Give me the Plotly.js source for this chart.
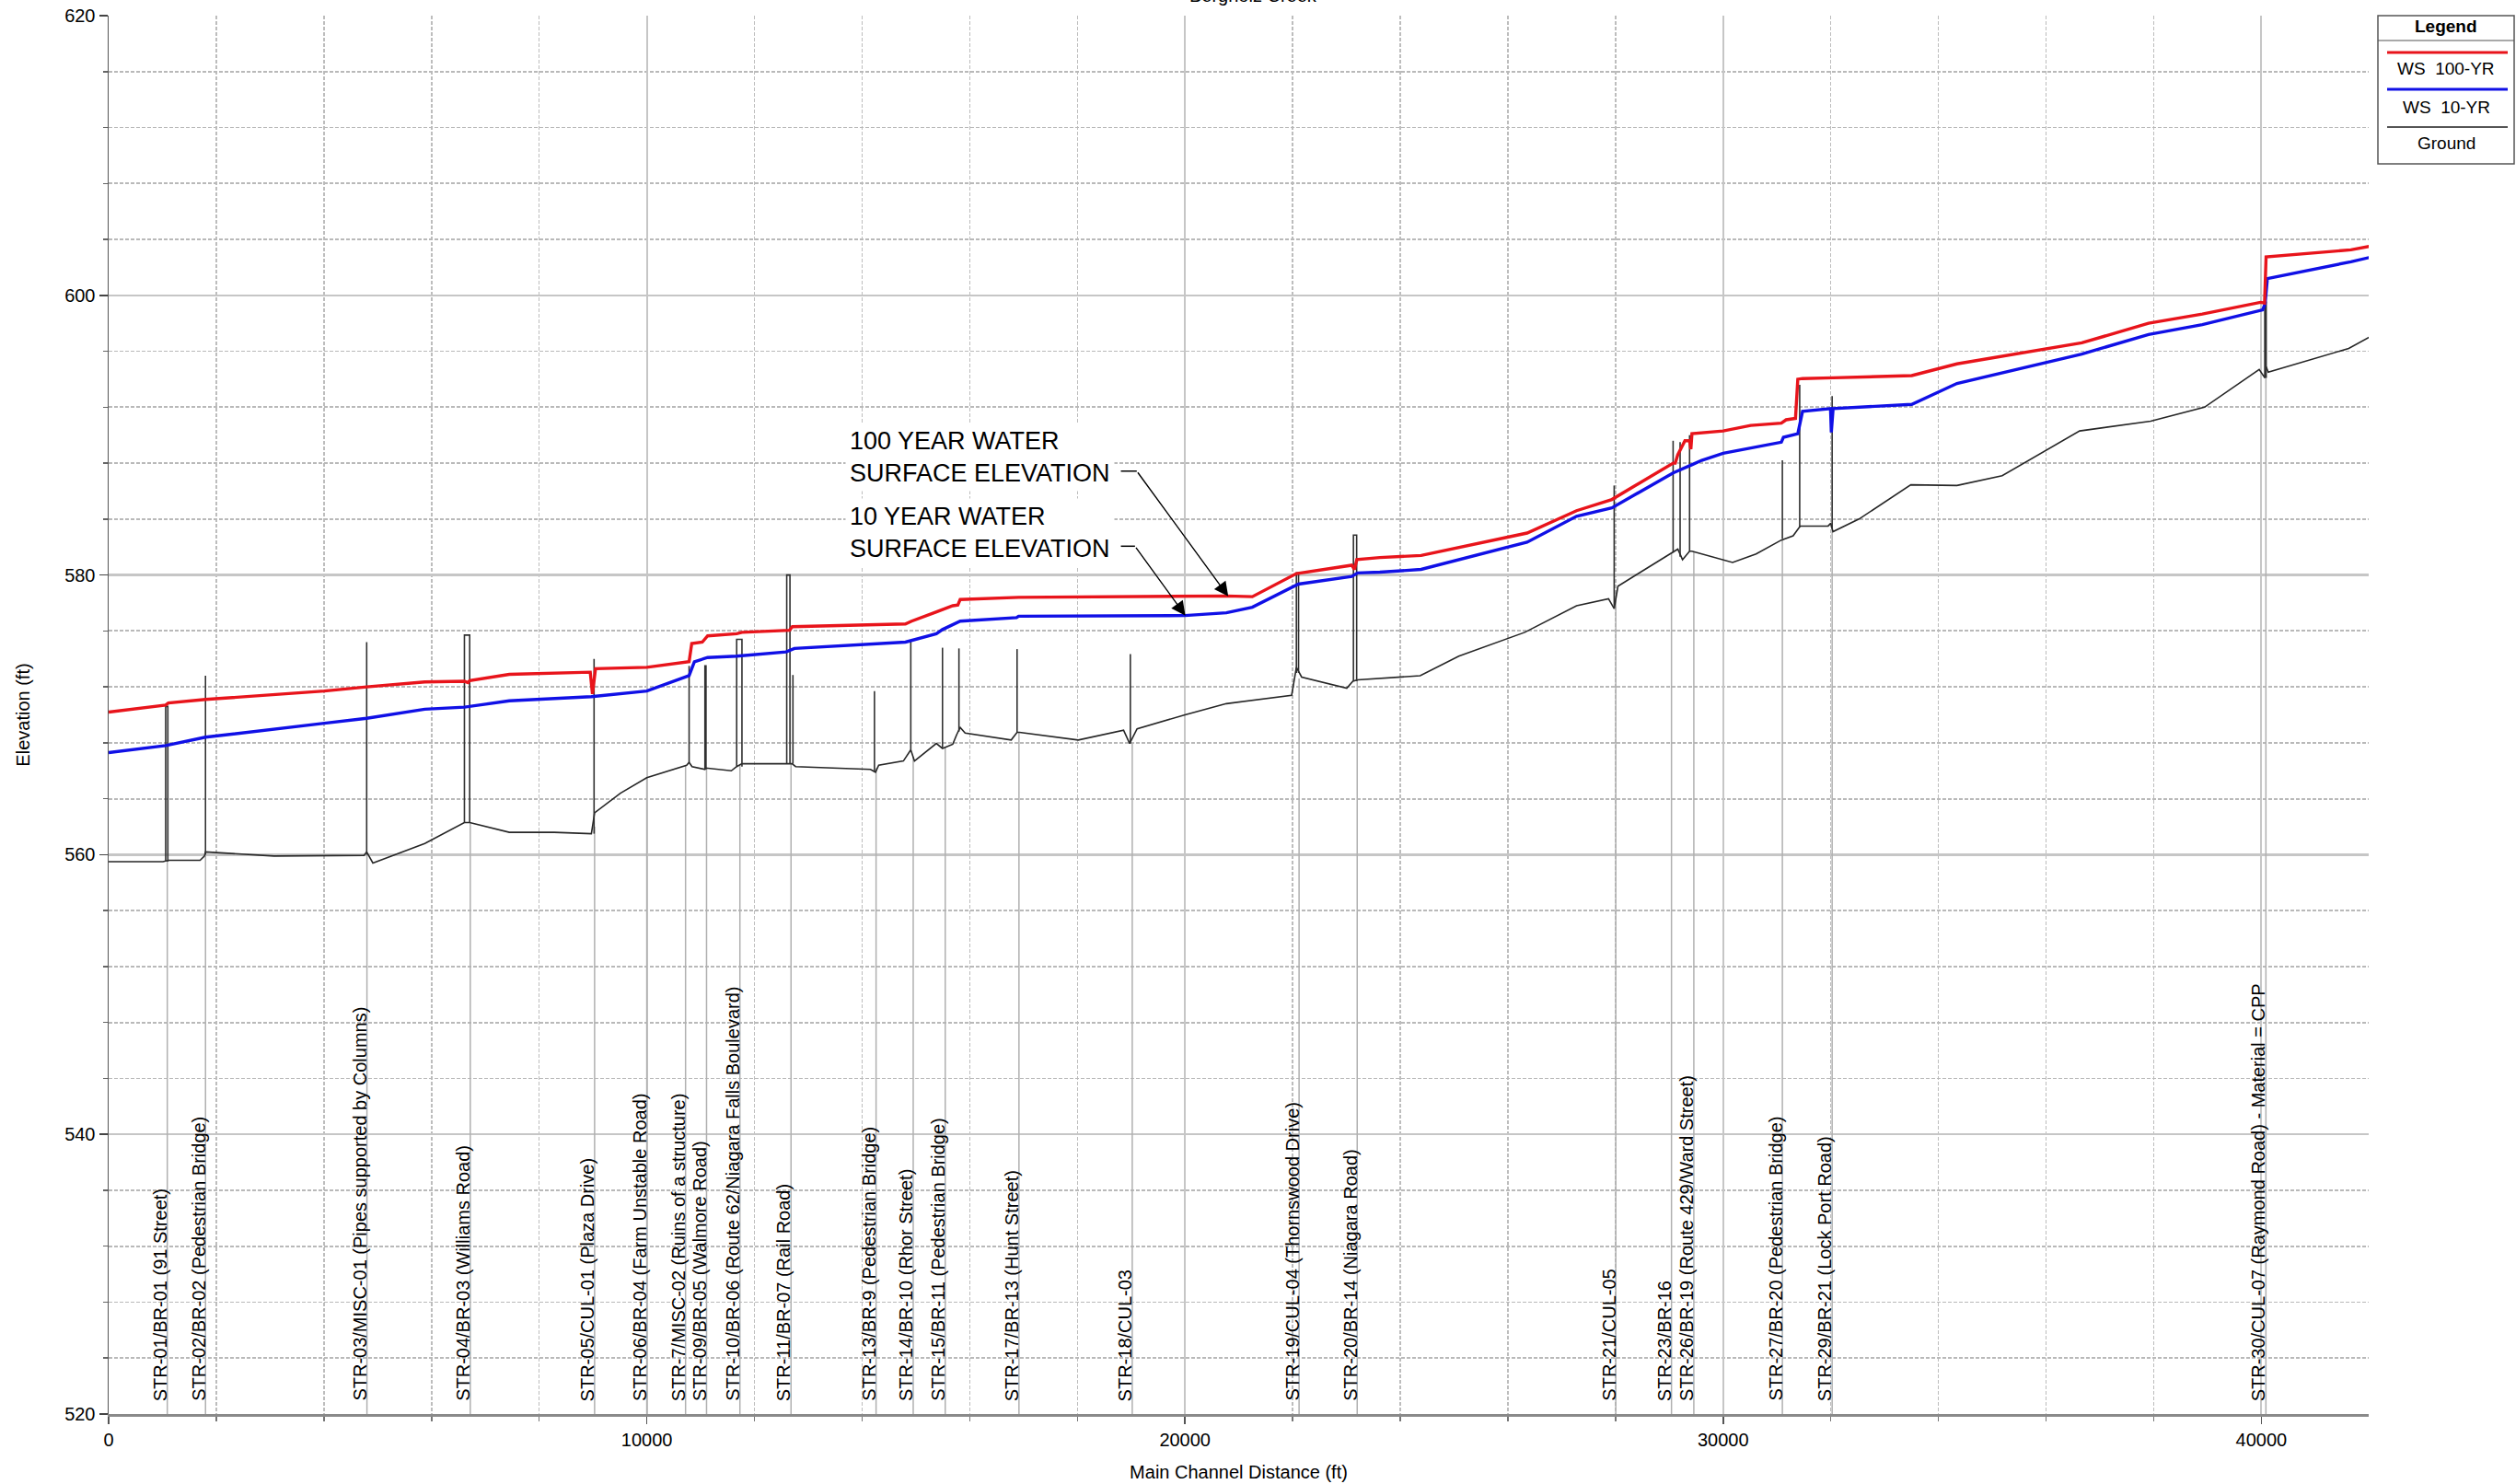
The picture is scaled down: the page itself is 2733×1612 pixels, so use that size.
<!DOCTYPE html>
<html>
<head>
<meta charset="utf-8">
<script src="https://cdn.plot.ly/plotly-3.0.1.min.js"></script>
<style>html,body{margin:0;padding:0;background:#fff;}#chart{width:2733px;height:1612px;}</style>
</head>
<body>
<div id="chart"></div>
<script>
// ---------------- DATA ----------------
const groundStation = [0,1010,1110,1700,1780,1800,3075,4745,4795,4910,5875,6560,6610,6710,7445,8280,8970,9030,9510,10000,10740,10786,10840,11080,11100,11570,11670,11768,12590,12700,12765,13544,14156,14250,14309,14768,14905,14974,15380,15494,15685,15760,15823,15915,16771,16880,16924,18017,18859,18972,19110,20000,20769,21982,22070,22168,23006,23120,23207,24370,25088,26313,27276,27870,27975,28045,29008,29070,29157,29245,29376,29420,30175,30612,31081,31300,31431,31950,32000,32040,32524,33487,34344,35184,36624,37944,38944,39960,40064,40090,40128,41624,42000];
const groundElev = [559.5,559.5,559.6,559.6,559.9,560.2,559.9,559.95,560.2,559.4,560.8,562.2,562.3,562.3,561.6,561.6,561.5,563.0,564.4,565.5,566.4,566.6,566.3,566.1,566.2,566.0,566.3,566.5,566.5,566.5,566.3,566.2,566.1,565.9,566.4,566.7,567.5,566.7,567.95,567.6,567.9,568.6,569.1,568.7,568.2,568.75,568.75,568.2,568.9,567.95,569.0,570.0,570.8,571.4,573.4,572.7,571.9,572.4,572.5,572.8,574.2,575.9,577.8,578.3,577.6,579.2,581.5,581.6,581.85,581.1,581.7,581.7,580.9,581.5,582.5,582.8,583.5,583.5,583.7,583.1,584.0,586.45,586.4,587.1,590.3,591.0,592.0,594.7,594.1,594.9,594.5,596.2,597.0];

const ws100Station = [0,1060,1110,1800,4008,4795,5875,6611,6680,6709,7446,8949,8990,9047,10000,10786,10835,11031,11130,11670,11768,12589,12652,12704,14806,14920,15685,15780,15823,16908,20769,21251,22070,23100,23150,23193,23621,24388,26357,27276,27932,29070,29110,29157,29290,29376,29400,29420,30000,30512,31081,31170,31344,31387,31475,32043,33504,34344,36664,37904,38904,39984,40060,40088,41664,42000];
const ws100Elev = [570.2,570.7,570.85,571.1,571.7,572.0,572.35,572.4,572.3,572.45,572.9,573.05,571.5,573.3,573.4,573.8,575.1,575.2,575.65,575.8,575.9,576.0,576.05,576.3,576.5,576.7,577.8,577.85,578.25,578.4,578.5,578.45,580.1,580.7,580.4,581.1,581.25,581.4,583.0,584.6,585.4,588.0,588.0,588.6,589.6,589.6,589.0,590.1,590.3,590.7,590.86,591.1,591.2,594.0,594.05,594.1,594.26,595.1,596.6,598.0,598.66,599.5,599.45,602.75,603.25,603.5];

const ws10Station = [0,1060,1800,3075,4008,4795,5875,6611,7446,8969,9509,10000,10786,10884,11130,11670,12589,12742,14806,15380,15494,15685,15823,16870,16908,20000,20769,21251,22107,23100,23207,23621,24388,26357,27276,27932,29070,29427,29602,30000,30512,31081,31120,31387,31475,31995,32010,32043,33504,34344,36664,37904,38904,40024,40070,40112,41664,42000];
const ws10Elev = [567.3,567.8,568.4,569.0,569.4,569.75,570.4,570.55,571.0,571.3,571.5,571.7,572.8,573.8,574.1,574.2,574.5,574.75,575.2,575.8,576.1,576.45,576.7,576.95,577.05,577.1,577.3,577.7,579.35,579.9,580.15,580.2,580.4,582.35,584.2,584.8,587.3,587.9,588.2,588.7,589.1,589.5,589.85,590.1,591.7,591.9,590.2,591.9,592.2,593.7,595.8,597.2,597.9,598.96,599.4,601.2,602.4,602.7];

// structure decks (start station, end station, base elevation, top elevation)
const structStart = [1060,1800,4795,6611,9020,10786,11080,11670,12600,12715,14230,14905,15494,15800,16880,18985,22070,23130,27975,29070,29200,29376,31100,31422,32025,40064];
const structEnd   = [1100,1800,4795,6709,9020,10786,11100,11768,12660,12715,14230,14905,15494,15800,16880,18985,22110,23190,27975,29070,29200,29376,31100,31422,32025,40090];
const structBase  = [559.5,560.0,560.0,562.3,561.5,566.6,566.1,566.3,566.5,566.5,565.9,567.5,567.6,568.8,568.75,567.95,573.0,572.4,577.6,581.6,581.3,581.7,582.6,583.4,583.3,594.1];
const structTop   = [570.6,572.8,575.2,575.7,574.0,573.5,573.5,575.4,580.0,572.85,571.7,575.3,574.8,574.75,574.7,574.35,580.15,582.85,586.4,589.6,589.5,590.0,588.2,593.6,592.8,599.5];

// structure labels
const labelStation = [1090,1800,4800,6720,9030,10000,10720,11110,11730,12680,14260,14950,15545,16915,19020,22120,23200,28005,29040,29455,31100,32025,40085];
const labelGround  = [559.5,560.2,560.1,562.3,562.0,565.5,566.4,566.2,566.4,566.5,566.2,567.0,567.7,568.75,568.0,572.6,572.5,578.9,581.6,581.7,582.6,583.3,594.3];
const labelText = [
  "STR-01/BR-01 (91 Street)",
  "STR-02/BR-02 (Pedestrian Bridge)",
  "STR-03/MISC-01 (Pipes supported by Columns)",
  "STR-04/BR-03 (Williams Road)",
  "STR-05/CUL-01 (Plaza Drive)",
  "STR-06/BR-04 (Farm Unstable Road)",
  "STR-7/MISC-02 (Ruins of a structure)",
  "STR-09/BR-05 (Walmore Road)",
  "STR-10/BR-06 (Route 62/Niagara Falls Boulevard)",
  "STR-11/BR-07 (Rail Road)",
  "STR-13/BR-9 (Pedestrian Bridge)",
  "STR-14/BR-10 (Rhor Street)",
  "STR-15/BR-11 (Pedestrian Bridge)",
  "STR-17/BR-13 (Hunt Street)",
  "STR-18/CUL-03",
  "STR-19/CUL-04 (Thornswood Drive)",
  "STR-20/BR-14 (Niagara Road)",
  "STR-21/CUL-05",
  "STR-23/BR-16",
  "STR-26/BR-19 (Route 429/Ward Street)",
  "STR-27/BR-20 (Pedestrian Bridge)",
  "STR-29/BR-21 (Lock Port Road)",
  "STR-30/CUL-07 (Raymond Road) - Material = CPP"
];

// callouts: text, text-left station, text-centre elevation, bend point, arrow tip
const calloutText  = ["100 YEAR WATER<br>SURFACE ELEVATION", "10 YEAR WATER<br>SURFACE ELEVATION"];
const calloutTextX = [13690, 13690];
const calloutTextY = [588.45, 583.05];
const calloutLeadX = [18809, 18809];
const calloutBendX = [19104, 19071];
const calloutBendY = [587.43, 582.06];
const calloutTipX  = [20804, 20007];
const calloutTipY  = [578.47, 577.1];

const xTickValues = [0, 10000, 20000, 30000, 40000];
const xTickLabels = ["0", "10000", "20000", "30000", "40000"];

const legendNames = ["WS\u00a0 100-YR", "WS\u00a0 10-YR", "Ground"];
const legendColors = ["#e8141b", "#1010e6", "#555555"];

// ---------------- LAYOUT HELPERS ----------------
const W = 2733, H = 1612;
const PL = 118, PR = 2573, PT = 17, PB = 1536;
const px2x = p => (p - PL) / (PR - PL);
const px2y = p => (PB - p) / (PB - PT);
const FONT = "Liberation Sans, Arial, Helvetica, sans-serif";

// ---------------- TRACES ----------------
const traces = [];

// structure marker lines (from bottom to ground)
{
  const xs = [], ys = [];
  labelStation.forEach((s, i) => { xs.push(s, s, null); ys.push(520, labelGround[i], null); });
  traces.push({x: xs, y: ys, mode: "lines", line: {color: "#b0b0b0", width: 1.5}, hoverinfo: "skip", showlegend: false});
}
// ground
traces.push({x: groundStation, y: groundElev, mode: "lines", name: "Ground", line: {color: "#262626", width: 1.6}, showlegend: false});
// structures
{
  const xs = [], ys = [];
  structStart.forEach((s, i) => {
    if (structEnd[i] === s) { xs.push(s, s, null); ys.push(structBase[i], structTop[i], null); }
    else { xs.push(s, s, structEnd[i], structEnd[i], null); ys.push(structBase[i], structTop[i], structTop[i], structBase[i], null); }
  });
  traces.push({x: xs, y: ys, mode: "lines", line: {color: "#303030", width: 1.6}, hoverinfo: "skip", showlegend: false});
}
traces.push({x: ws10Station, y: ws10Elev, mode: "lines", name: "WS 10-YR", line: {color: legendColors[1], width: 3.4}, showlegend: false});
traces.push({x: ws100Station, y: ws100Elev, mode: "lines", name: "WS 100-YR", line: {color: legendColors[0], width: 3.4}, showlegend: false});

// ---------------- ANNOTATIONS & SHAPES ----------------
const annotations = [];
const shapes = [];

labelText.forEach((t, i) => {
  annotations.push({x: labelStation[i], y: 520, xref: "x", yref: "y", text: t, textangle: -90,
    showarrow: false, xanchor: "center", yanchor: "bottom", xshift: -8, yshift: 12,
    font: {family: FONT, size: 20, color: "#000"}});
});

calloutText.forEach((t, i) => {
  annotations.push({x: calloutTextX[i], y: calloutTextY[i], xref: "x", yref: "y", text: t, align: "left",
    showarrow: false, xanchor: "left", yanchor: "middle", bgcolor: "#ffffff", borderpad: 4,
    font: {family: FONT, size: 27, color: "#000"}});
  shapes.push({type: "line", xref: "x", yref: "y", x0: calloutLeadX[i], x1: calloutBendX[i],
    y0: calloutBendY[i], y1: calloutBendY[i], line: {color: "#000", width: 1.5}});
  annotations.push({x: calloutTipX[i], y: calloutTipY[i], xref: "x", yref: "y", ax: calloutBendX[i], ay: calloutBendY[i],
    axref: "x", ayref: "y", text: "", showarrow: true, arrowhead: 2, arrowsize: 2.2, arrowwidth: 1.4,
    arrowcolor: "#000", standoff: 0, startstandoff: 0});
});

// clipped title at the very top (cut off in the reference as well)
annotations.push({x: px2x(1361), y: px2y(7.5), xref: "paper", yref: "paper", text: "Bergholz Creek",
  showarrow: false, xanchor: "center", yanchor: "bottom", font: {family: FONT, size: 20, color: "#000"}});

// custom legend box
const LX0 = 2583, LX1 = 2731, LT = 17, LB = 178;
shapes.push({type: "rect", xref: "paper", yref: "paper", x0: px2x(LX0), x1: px2x(LX1), y0: px2y(LB), y1: px2y(LT),
  line: {color: "#555", width: 1.5}, fillcolor: "#fff", layer: "above"});
shapes.push({type: "line", xref: "paper", yref: "paper", x0: px2x(LX0), x1: px2x(LX1), y0: px2y(44), y1: px2y(44),
  line: {color: "#555", width: 1.2}});
annotations.push({x: px2x((LX0 + LX1) / 2), y: px2y(29), xref: "paper", yref: "paper", text: "<b>Legend</b>",
  showarrow: false, xanchor: "center", yanchor: "middle", font: {family: FONT, size: 19, color: "#000"}});
const legLineY = [57, 97, 138], legTextY = [75, 116, 155];
legendNames.forEach((n, i) => {
  shapes.push({type: "line", xref: "paper", yref: "paper", x0: px2x(2593), x1: px2x(2724), y0: px2y(legLineY[i]), y1: px2y(legLineY[i]),
    line: {color: legendColors[i], width: i < 2 ? 3 : 2}});
  annotations.push({x: px2x((LX0 + LX1) / 2), y: px2y(legTextY[i]), xref: "paper", yref: "paper", text: n,
    showarrow: false, xanchor: "center", yanchor: "middle", font: {family: FONT, size: 19, color: "#000"}});
});

const layout = {
  width: W, height: H,
  margin: {l: PL, r: W - PR, t: PT, b: H - PB, pad: 0},
  paper_bgcolor: "#fff", plot_bgcolor: "#fff",
  showlegend: false,
  font: {family: FONT, size: 20, color: "#000"},
  xaxis: {
    range: [0, 41995], tickmode: "array", tickvals: xTickValues, ticktext: xTickLabels,
    ticks: "outside", ticklen: 8, tickwidth: 1.5, tickcolor: "#555",
    showgrid: true, gridcolor: "#c6c6c6", gridwidth: 2, zeroline: false,
    showline: true, linecolor: "#8a8a8a", linewidth: 2.5,
    tickfont: {family: FONT, size: 20, color: "#000"},
    minor: {tick0: 0, dtick: 2000, ticks: "outside", ticklen: 5, tickcolor: "#777", showgrid: true, gridcolor: "#bdbdbd", gridwidth: 1.5, griddash: "4px,2px"},
    title: {text: "Main Channel Distance (ft)", font: {family: FONT, size: 20, color: "#000"}, standoff: 19},
    automargin: false
  },
  yaxis: {
    range: [520, 620], tick0: 520, dtick: 20, ticks: "outside", ticklen: 9, tickwidth: 1.5, tickcolor: "#444",
    showgrid: true, gridcolor: "#c6c6c6", gridwidth: 2.5, zeroline: false,
    showline: true, linecolor: "#555", linewidth: 1.5,
    tickfont: {family: FONT, size: 20, color: "#000"},
    minor: {dtick: 4, ticks: "outside", ticklen: 5, tickcolor: "#666", showgrid: true, gridcolor: "#b9b9b9", gridwidth: 1.8, griddash: "4px,2px"},
    title: {text: "Elevation (ft)", font: {family: FONT, size: 20, color: "#000"}, standoff: 32},
    automargin: false
  },
  annotations: annotations,
  shapes: shapes
};

Plotly.newPlot("chart", traces, layout, {staticPlot: true, displayModeBar: false});
</script>
</body>
</html>
